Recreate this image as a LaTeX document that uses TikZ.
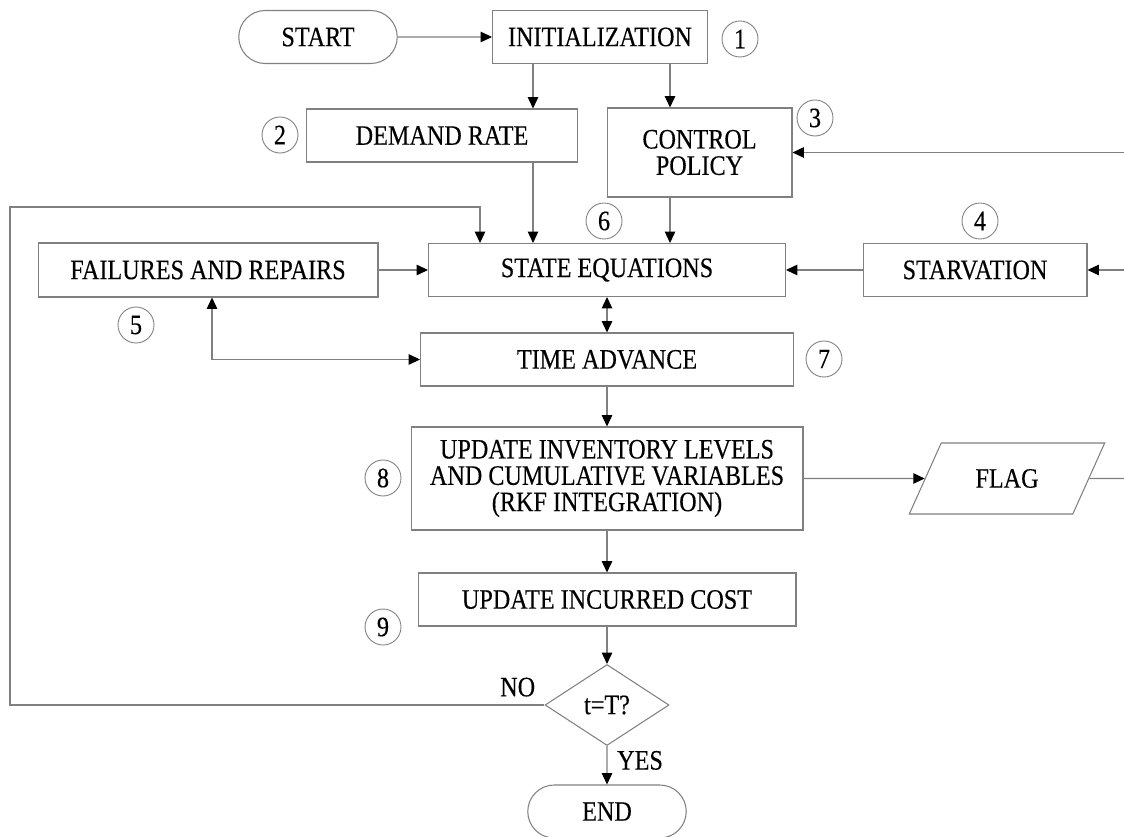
\documentclass[tikz,border=0pt]{standalone}
\usepackage{fontspec}
\setmainfont{Liberation Serif}[FakeStretch=0.86,FakeBold=0.3]
\usetikzlibrary{arrows.meta,shapes.geometric,shapes.misc}

\begin{document}
\begin{tikzpicture}[x=0.02cm,y=-0.02cm,
    font=\fontsize{16}{15}\selectfont,
    every node/.style={inner sep=0pt},
    line/.style={draw=black!50,line width=0.6pt},
    box/.style={line,rectangle,minimum height=1.06cm,align=center},
    term/.style={line,rounded rectangle,minimum width=3.17cm,minimum height=1.06cm},
    num/.style={line,circle,line width=0.5pt,minimum size=0.72cm},
    arr/.style={line,-{Triangle[length=6.5pt,width=6pt,black]}},
    darr/.style={line,{Triangle[length=6.5pt,width=6pt,black]}-{Triangle[length=6.5pt,width=6pt,black]}}]
\useasboundingbox (0,0) rectangle (1124,837);

\node[term] (start) at (318,37) {START};
\node[box,minimum width=4.3cm] (init) at (600,37) {INITIALIZATION};
\node[box,minimum width=5.42cm] (demand) at (442,135.5) {DEMAND RATE};
\node[box,minimum width=3.7cm,minimum height=1.78cm] (control) at (699.5,152.5) {CONTROL\\POLICY};
\node[box,minimum width=6.8cm,minimum height=1.08cm] (fail) at (208,270) {FAILURES AND REPAIRS};
\node[box,minimum width=7.14cm] (state) at (607,270) {STATE EQUATIONS};
\node[box,minimum width=4.48cm] (starv) at (975,270) {STARVATION};
\node[box,minimum width=7.46cm] (time) at (607,359.5) {TIME ADVANCE};
\node[box,minimum width=7.84cm,minimum height=2.06cm] (update) at (607,478.5) {UPDATE INVENTORY LEVELS\\AND CUMULATIVE VARIABLES\\(RKF INTEGRATION)};
\node[line,trapezium,trapezium left angle=51,trapezium right angle=129,trapezium stretches,minimum width=3.92cm,minimum height=1.42cm] (flag) at (1007,478.5) {FLAG};
\node[box,minimum width=7.56cm] (cost) at (607,599.5) {UPDATE INCURRED COST};
\node[line,diamond,minimum width=2.48cm,minimum height=1.62cm] (test) at (607,705) {t=T?};
\node[term] (end) at (607,811.5) {END};

\node[num] (n1) at (740,39) {1};
\node[num] (n2) at (280,135) {2};
\node[num] (n3) at (815,118) {3};
\node[num] (n4) at (980,221) {4};
\node[num] (n5) at (136,325) {5};
\node[num] (n6) at (604,221) {6};
\node[num] (n7) at (824,359) {7};
\node[num] (n8) at (383,478) {8};
\node[num] (n9) at (383,627) {9};

\coordinate (colL) at (480,0);
\coordinate (colD) at (533,0);
\coordinate (colC) at (670,0);
\coordinate (colF) at (212,0);
\coordinate (loop) at (10,207);
\coordinate (inC) at (1124,152.5);
\coordinate (inS) at (1124,270);
\coordinate (outF) at (1124,478.5);

\path
    (start) edge[arr] (init)
    (init.south -| colD) edge[arr] (demand.north -| colD)
    (init.south -| colC) edge[arr] (control.north -| colC)
    (demand.south -| colD) edge[arr] (state.north -| colD)
    (control.south -| colC) edge[arr] (state.north -| colC)
    (fail) edge[arr] (state)
    (starv) edge[arr] (state)
    (inS) edge[arr] (starv)
    (inC) edge[arr] (control)
    (state) edge[darr] (time)
    (time) edge[arr] (update)
    (update) edge[arr] (flag)
    (flag) edge[line] (outF)
    (update) edge[arr] (cost)
    (cost) edge[arr] (test)
    (test) edge[arr] node[pos=0,anchor=north west,inner xsep=5.5pt,inner ysep=2.5pt] {YES} (end);
\draw[arr] (test.west) node[anchor=south east,inner xsep=5pt,inner ysep=4.5pt] {NO} -| (loop) -| (state.north -| colL);
\draw[darr] (fail.south -| colF) |- (time.west);
\end{tikzpicture}
\end{document}
